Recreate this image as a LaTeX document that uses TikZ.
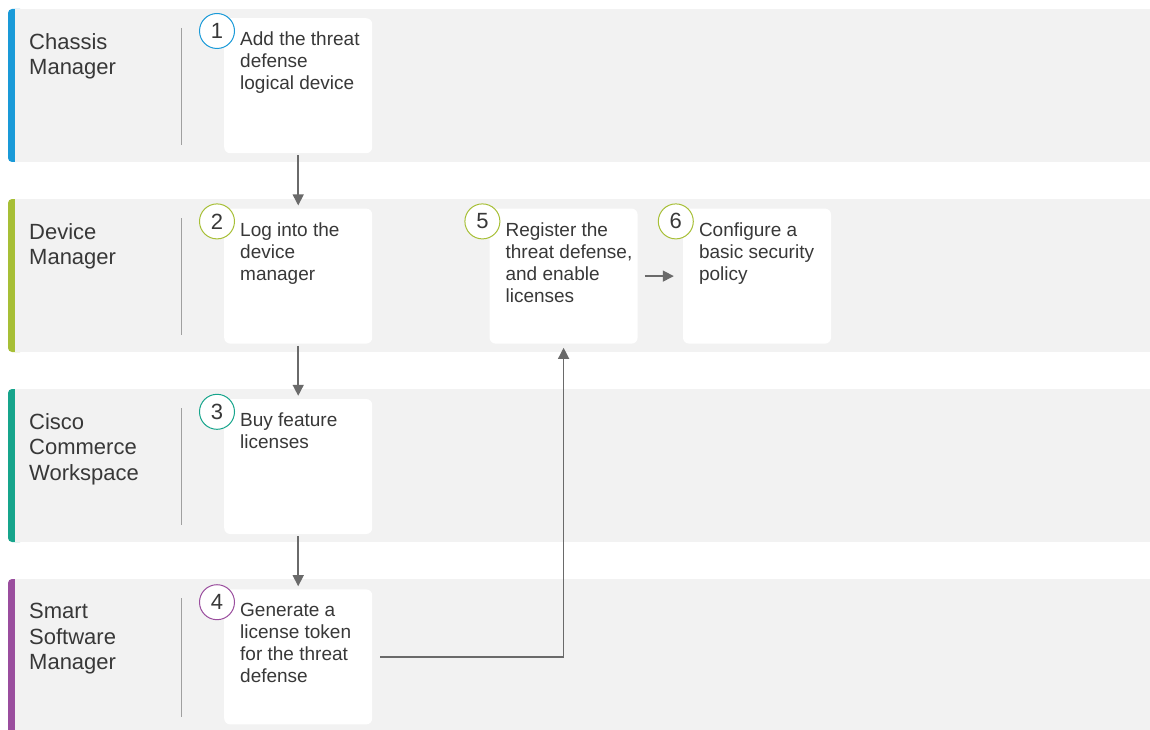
\documentclass[tikz,border=0pt]{standalone}
\usepackage{fontspec}
\setmainfont{Liberation Sans}
\usetikzlibrary{arrows.meta,positioning}

\definecolor{lanegrey}{HTML}{F2F2F2}
\definecolor{cmblue}{HTML}{1A9AD8}
\definecolor{dmolive}{HTML}{A7BF36}
\definecolor{ccwteal}{HTML}{17A58C}
\definecolor{ssmpurple}{HTML}{9A4E9E}
\definecolor{inkgrey}{HTML}{383838}
\definecolor{flowgrey}{HTML}{6A6A6A}
\definecolor{rulegrey}{HTML}{A0A0A0}

\begin{document}
\begin{tikzpicture}[x=1pt,y=-1pt,>={Triangle[length=11pt,width=11pt]},node distance=55pt,
  stepbox/.style={fill=white,rounded corners=6pt,minimum width=148pt,minimum height=135pt,inner sep=0pt,anchor=north west},
  steptext/.style={anchor=north west,inner sep=0pt,align=left,text=inkgrey,font=\fontsize{19}{22}\selectfont},
  badge/.style={circle,fill=white,line width=1pt,minimum size=35pt,inner sep=0pt,text=inkgrey,font=\fontsize{22}{22}\selectfont},
  lanetext/.style={anchor=north west,inner sep=0pt,align=left,text=inkgrey,font=\fontsize{22}{25.5}\selectfont},
  flow/.style={->,color=flowgrey,line width=1.5pt,shorten >=3pt,shorten <=2pt}]

\useasboundingbox (0,0) rectangle (1150,730);

% lanes
\foreach \top/\bot/\col in {9/162/cmblue,199/352/dmolive,389/542/ccwteal,579/734/ssmpurple}{
  \fill[\col,rounded corners=4pt] (8,\top) rectangle (24,\bot);
  \fill[lanegrey] (15,\top) rectangle (1150,\bot);
  \draw[rulegrey,line width=1pt] (181,\top+19) -- (181,\bot-17);
}

\node[lanetext] (cm)  at (29,33)  {Chassis\\Manager};
\node[lanetext] (dm)  at (29,223) {Device\\Manager};
\node[lanetext] (ccw) at (29,413) {Cisco\\Commerce\\Workspace};
\node[lanetext] (ssm) at (29,603) {Smart\\Software\\Manager};

% steps
\node[stepbox] (s1) at (224,18) {};
\node[stepbox,below=of s1] (s2) {};
\node[stepbox,below=of s2] (s3) {};
\node[stepbox,below=of s3] (s4) {};
\node[stepbox,right=117pt of s2] (s5) {};
\node[stepbox,right=45pt of s5] (s6) {};

\foreach \i/\col/\txt in {1/cmblue/{Add the threat\\defense\\logical device},
    2/dmolive/{Log into the\\device\\manager},
    3/ccwteal/{Buy feature\\licenses},
    4/ssmpurple/{Generate a\\license token\\for the threat\\defense},
    5/dmolive/{Register the\\threat defense,\\and enable\\licenses},
    6/dmolive/{Configure a\\basic security\\policy}}{
  \node[badge,draw=\col] (n\i) at ([xshift=-7pt,yshift=-13pt]s\i.north west) {\i};
  \node[steptext] (t\i) at ([xshift=16pt,yshift=-14pt]s\i.north west) {\txt};
}

\draw[flow] (s1) -- (s2);
\draw[flow] (s2) -- (s3);
\draw[flow] (s3) -- (s4);
\draw[flow,shorten <=7pt,shorten >=9pt] (s5) -- (s6);
\draw[flow,line width=1.3pt,shorten <=8pt,shorten >=4pt] (s4) -| (s5);

\end{tikzpicture}
\end{document}
